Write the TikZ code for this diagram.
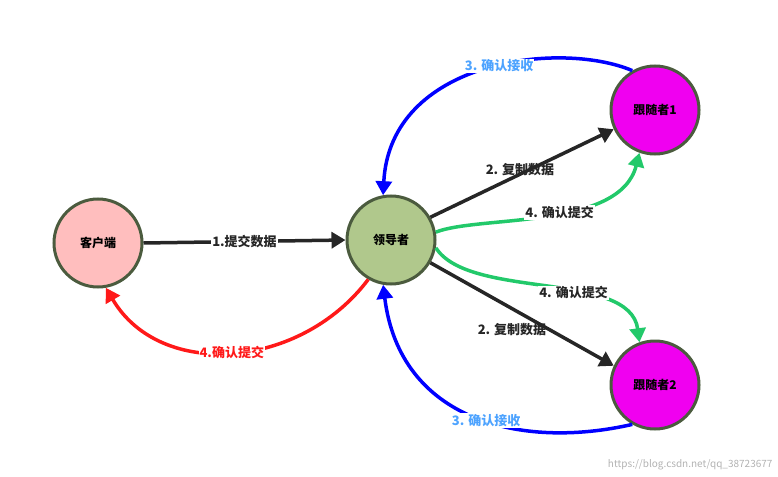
\documentclass[tikz,border=0pt]{standalone}
\usepackage{fontspec}
\setmainfont{Noto Sans CJK SC}
\usetikzlibrary{arrows.meta}
\definecolor{bd}{HTML}{4B5B3E}
\definecolor{lb}{HTML}{4DA3FF}
\definecolor{gr}{HTML}{22C96A}
\begin{document}
\begin{tikzpicture}[x=1pt,y=-1pt,
 st/.style={circle,draw=bd,line width=3pt,minimum size=88pt,font=\bfseries\fontsize{12}{14}\selectfont},
 ar/.style={line width=3.5pt,-{Triangle[length=14pt,width=16pt]}},
 lab/.style={fill=white,inner sep=1pt,text=black!85,font=\bfseries\fontsize{13}{15}\selectfont}]
\useasboundingbox (0,0) rectangle (778,476);
\node[st,fill={rgb,255:red,255;green,190;blue,190}] (c) at (98,243) {客户端};
\node[st,fill={rgb,255:red,176;green,200;blue,140}] (l) at (391,240) {领导者};
\node[st,fill={rgb,255:red,240;green,0;blue,240}] (f1) at (655,110) {跟随者1};
\node[st,fill={rgb,255:red,240;green,0;blue,240}] (f2) at (655,385) {跟随者2};
\draw[ar,black!85] (c.east) -- node[lab]{1.提交数据} (l.west);
\draw[ar,black!85] (l.30) -- (f1.205);
\node[lab,fill=none] (t1) at (520,170) {2. 复制数据};
\draw[ar,black!85] (l.-30) -- (f2.155);
\node[lab,fill=none] (t2) at (512,330) {2. 复制数据};
\draw[ar,blue] (f1.120) .. controls (560,40) and (390,60) .. node[lab,pos=0.45,text=lb]{3. 确认接收} (l.100);
\draw[ar,gr] (l.10) .. controls (480,215) and (620,230) .. node[lab,pos=0.55]{4. 确认提交} (f1.250);
\draw[ar,gr] (l.-10) .. controls (470,300) and (630,270) .. node[lab,pos=0.6]{4. 确认提交} (f2.110);
\draw[ar,blue] (f2.-120) .. controls (520,450) and (400,420) .. node[lab,pos=0.45,text=lb]{3. 确认接收} (l.-100);
\draw[ar,red!90] (l.-120) .. controls (300,370) and (160,380) .. node[lab,pos=0.5,text=red!90]{4.确认提交} (c.-80);
\node[text=black!30,font=\fontsize{10}{12}\selectfont,anchor=south east] (w) at (776,474) {https://blog.csdn.net/qq\_38723677};
\end{tikzpicture}
\end{document}
